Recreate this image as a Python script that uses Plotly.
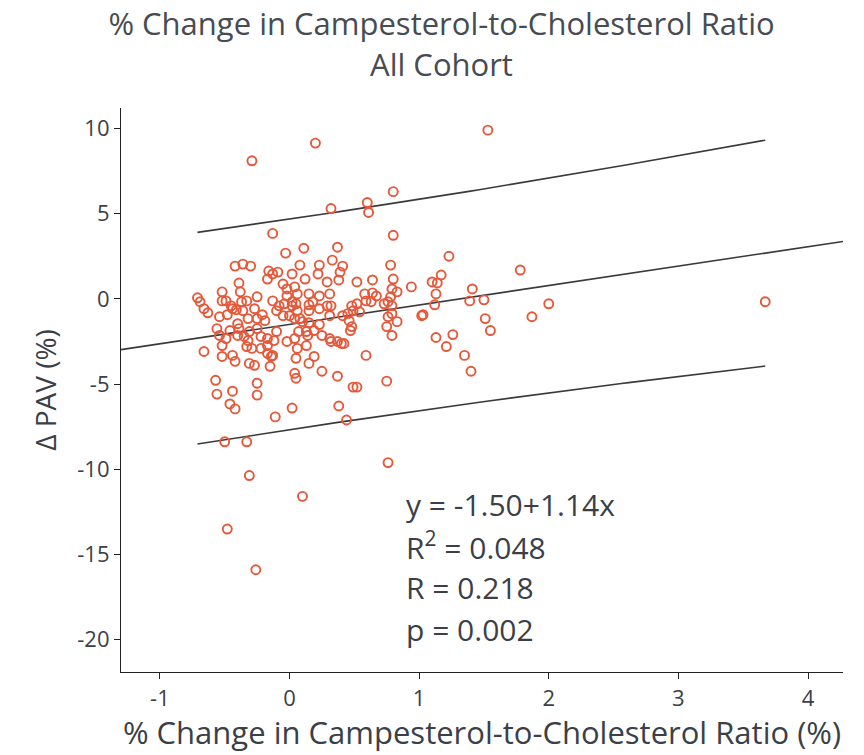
import numpy as np
import plotly.graph_objects as go

# % change in campesterol-to-cholesterol ratio (x) and change in PAV (y)
campesterol_change = [
    1.53, 0.20, -0.29, 0.80, 0.32, 0.60, 0.61, -0.13, 0.80, 1.23,
    1.78, -0.03, 0.11, 0.37, 0.33, 0.41, 0.78, -0.42, -0.36, -0.30,
    -0.16, -0.13, -0.09, -0.17, 0.08, 0.23, 0.22, 0.02, 0.12, 0.29,
    0.39, 0.38, 0.52, 0.64, 0.80, -0.39, -0.52, -0.38, -0.25, -0.71,
    -0.05, -0.02, 0.04, 0.15, 0.23, 0.31, 0.58, 0.64, 0.67, 0.79,
    0.83, 0.78, 0.76, 0.79, 0.94, 1.17, 1.10, 1.14, 1.13, 1.12,
    1.41, 1.39, 1.50, 2.00, 1.87, 3.67, 0.59, 0.63, 0.48, 0.52,
    0.49, 0.54, 0.41, 0.45, 0.46, 0.48, 0.47, 0.32, 0.31, 0.79,
    0.83, 0.76, 0.75, 0.79, 1.02, 1.03, 1.51, 1.55, 1.13, 1.26,
    1.21, 1.35, 1.40, 0.37, 0.40, 0.42, 0.59, 0.37, 0.49, 0.52,
    0.75, 0.31, 0.32, -0.49, -0.52, -0.45, -0.44, -0.69, -0.66, -0.63,
    -0.54, -0.33, -0.36, -0.32, -0.40, -0.27, -0.25, -0.19, -0.13, -0.08,
    -0.10, -0.02, 0.02, -0.05, 0.00, 0.06, 0.04, 0.08, 0.15, 0.10,
    0.18, 0.29, 0.23, -0.54, -0.49, -0.52, -0.40, -0.35, -0.32, -0.33,
    -0.29, -0.17, -0.17, -0.22, -0.17, -0.10, -0.12, -0.13, -0.66, -0.52,
    -0.44, -0.42, -0.31, -0.27, -0.14, -0.15, -0.02, 0.04, 0.06, 0.13,
    0.14, 0.05, 0.04, 0.15, 0.19, 0.25, -0.57, -0.25, -0.56, -0.44,
    -0.25, 0.05, -0.46, -0.42, -0.11, 0.02, 0.38, 0.44, -0.50, -0.33,
    0.76, -0.31, 0.10, -0.48, -0.26, -0.56, -0.46, -0.39, -0.31, -0.25,
    -0.22, 0.15, 0.23, 0.07, 0.13, 0.19, 0.25, 0.06, 0.05, 0.15,
    0.73, -0.37, -0.41, -0.48, -0.21, -0.04, 0.02,
]
pav_change = [
    9.90, 9.14, 8.10, 6.29, 5.30, 5.65, 5.07, 3.84, 3.73, 2.50,
    1.69, 2.68, 2.97, 3.03, 2.27, 1.92, 1.98, 1.92, 2.04, 1.92,
    1.63, 1.46, 1.57, 1.16, 1.98, 1.98, 1.46, 1.46, 1.16, 0.99,
    1.57, 1.11, 0.99, 1.11, 1.16, 0.93, 0.41, 0.41, 0.12, 0.06,
    0.87, 0.58, 0.70, 0.29, 0.17, 0.29, 0.29, 0.35, 0.17, 0.58,
    0.41, 0.12, -0.17, -0.41, 0.70, 1.40, 0.99, 0.93, 0.29, -0.35,
    0.58, -0.12, -0.06, -0.29, -1.05, -0.17, -0.12, -0.17, -0.41, -0.29,
    -0.70, -0.76, -0.99, -0.87, -1.28, -1.63, -1.86, -0.41, -0.99, -0.87,
    -1.34, -1.05, -1.63, -2.15, -0.99, -0.93, -1.16, -1.86, -2.27, -2.10,
    -2.80, -3.32, -4.25, -2.50, -2.62, -2.62, -3.32, -4.54, -5.18, -5.18,
    -4.83, -2.33, -2.50, -0.12, -0.12, -0.41, -0.58, -0.17, -0.58, -0.82,
    -1.05, -0.12, -0.70, -1.16, -1.46, -0.58, -1.16, -1.28, -0.12, -0.41,
    -0.70, 0.17, -0.17, -0.99, -0.99, -0.70, -1.16, -1.16, -0.70, -1.34,
    -0.17, -0.41, -0.58, -2.15, -2.33, -2.74, -2.15, -2.21, -2.45, -2.80,
    -2.91, -2.33, -2.74, -2.91, -3.20, -1.92, -2.45, -3.32, -3.09, -3.38,
    -3.32, -3.67, -3.79, -3.90, -3.38, -3.96, -2.50, -2.33, -2.91, -2.74,
    -2.15, -3.49, -4.37, -3.79, -3.38, -4.25, -4.78, -4.95, -5.59, -5.42,
    -5.65, -4.66, -6.17, -6.46, -6.93, -6.41, -6.29, -7.11, -8.39, -8.39,
    -9.61, -10.37, -11.59, -13.51, -15.90, -1.75, -1.86, -1.75, -1.92, -1.75,
    -2.21, -1.40, -1.51, -1.92, -1.92, -1.86, -2.15, 0.29, -0.29, -0.35,
    -0.29, -0.17, -0.64, -0.93, -0.93, -0.29, -0.41,
]

# Reported regression statistics
intercept = -1.50
slope = 1.14
stats_lines = ["y = -1.50+1.14x", "R<sup>2</sup> = 0.048", "R = 0.218", "p = 0.002"]

x_ticks = [-1, 0, 1, 2, 3, 4]
x_tick_labels = ["-1", "0", "1", "2", "3", "4"]
y_ticks = [10, 5, 0, -5, -10, -15, -20]
y_tick_labels = ["10", "5", "0", "-5", "-10", "-15", "-20"]
x_range = [-1.30, 4.27]
y_range = [-21.9, 11.2]

x = np.asarray(campesterol_change)
y = np.asarray(pav_change)
n = len(x)

# Fitted line across the full x axis
fit_x = np.linspace(x_range[0], x_range[1], 50)
fit_y = intercept + slope * fit_x

# 95% prediction band over the observed x range
resid = y - (intercept + slope * x)
s = np.sqrt(np.sum(resid ** 2) / (n - 2))
sxx = np.sum((x - x.mean()) ** 2)
t_crit = 1.972
band_x = np.linspace(x.min(), x.max(), 80)
half = t_crit * s * np.sqrt(1 + 1 / n + (band_x - x.mean()) ** 2 / sxx)
band_mid = intercept + slope * band_x

line_color = "#3a3a3a"
marker_color = "#e5583a"
text_color = "#3b3f47"
font_family = "Open Sans, sans-serif"

fig = go.Figure()
for yy in (band_mid + half, band_mid - half):
    fig.add_trace(go.Scatter(x=band_x, y=yy, mode="lines",
                             line=dict(color=line_color, width=1.6),
                             hoverinfo="skip", showlegend=False))
fig.add_trace(go.Scatter(x=fit_x, y=fit_y, mode="lines",
                         line=dict(color=line_color, width=1.6),
                         hoverinfo="skip", showlegend=False))
fig.add_trace(go.Scatter(
    x=x, y=y, mode="markers", showlegend=False,
    marker=dict(symbol="circle-open", size=9, color=marker_color,
                line=dict(color=marker_color, width=1.9)),
))

for i, txt in enumerate(stats_lines):
    fig.add_annotation(
        x=0.392, y=0.2975 - i * 0.074, xref="paper", yref="paper",
        text=txt, showarrow=False, xanchor="left", yanchor="middle",
        font=dict(family=font_family, size=30, color=text_color),
    )

fig.update_layout(
    width=864, height=755,
    margin=dict(l=121, r=21, t=108, b=79),
    paper_bgcolor="white", plot_bgcolor="white",
    title=dict(
        text="% Change in Campesterol-to-Cholesterol Ratio<br>All Cohort",
        x=0.511, xanchor="center", y=0.953, yanchor="top",
        font=dict(family=font_family, size=31, color="#474b52"),
    ),
    xaxis=dict(
        range=x_range, tickvals=x_ticks, ticktext=x_tick_labels,
        showgrid=False, zeroline=False,
        showline=True, linecolor="#222", linewidth=1.2,
        ticks="outside", ticklen=6, tickcolor="#222",
        tickfont=dict(family=font_family, size=22, color=text_color),
        title=dict(text="% Change in Campesterol-to-Cholesterol Ratio (%)",
                   font=dict(family=font_family, size=31, color=text_color),
                   standoff=10),
    ),
    yaxis=dict(
        range=y_range, tickvals=y_ticks, ticktext=y_tick_labels,
        showgrid=False, zeroline=False,
        showline=True, linecolor="#222", linewidth=1.2,
        ticks="outside", ticklen=6, tickcolor="#222",
        tickfont=dict(family=font_family, size=22, color=text_color),
        title=dict(text="Δ PAV (%)",
                   font=dict(family=font_family, size=28, color=text_color),
                   standoff=12),
    ),
)

fig.write_html("out.html")
